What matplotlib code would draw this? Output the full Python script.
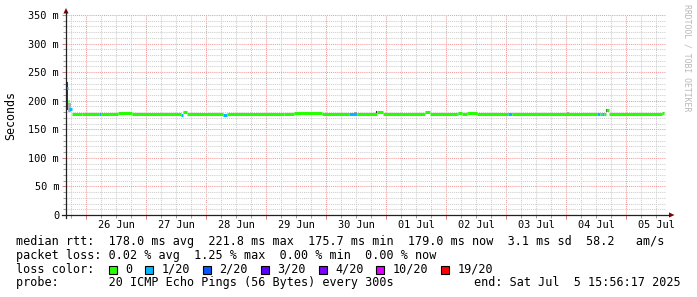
import matplotlib
matplotlib.use("Agg")
import matplotlib.pyplot as plt
import matplotlib.dates as mdates
from matplotlib.ticker import MultipleLocator, FuncFormatter, NullFormatter
from matplotlib.lines import Line2D
from matplotlib.patches import Rectangle, Polygon
from datetime import datetime, timedelta

# ---------------- data ----------------
end_time = datetime(2025, 7, 5, 15, 56, 17)
span_hours = 240  # 10 days shown

# median rtt segments (hours after window start), value in ms, loss index
seg_start_h = [0, 0.8, 1.2, 2.4, 6.4, 13.2, 14.0, 20.8, 26.4, 46.0,
               46.8, 48.4, 62.8, 64.4, 87.2, 91.2, 102.4, 113.2, 116.4, 124.4,
               126.8, 143.6, 145.6, 156.4, 156.8, 158.4, 160.4, 164.4, 176.8, 178.4,
               212.4, 213.6, 214.4, 215.2, 216.0, 217.2, 238.4]
seg_last_end_h = 239.2
seg_ms = [222, 200, 185, 177.5, 176.8, 176.5, 177.5, 178.6, 177.5, 175.8,
          180.5, 177.5, 175.8, 177.5, 177.0, 177.8, 177.3, 176.0, 177.5, 180.0,
          177.5, 180.0, 177.5, 176.0, 179.0, 177.5, 178.8, 177.5, 177.0, 177.5,
          177.0, 177.5, 177.0, 177.5, 183.0, 177.5, 179.0]
seg_loss = [1, 0, 1, 0, 0, 1, 0, 0, 0, 1,
            0, 0, 1, 0, 0, 0, 0, 1, 0, 0,
            0, 0, 0, 1, 0, 0, 0, 0, 1, 0,
            1, 0, 1, 0, 0, 0, 0]

# smoke (ping spread) spots
smoke_start_h = [0.0, 0.8, 115.2, 124.0, 144.8, 200.4, 216.0]
smoke_len_h = [0.8, 1.2, 1.2, 0.4, 0.4, 0.8, 0.4]
smoke_lo = [183, 180, 178, 179, 179, 178, 181]
smoke_hi = [232, 196, 181, 182, 182, 180, 186]
smoke_col = ["#3a3a3a", "#b0b0b0", "#a0a0a0", "#303030", "#303030", "#a8a8a8", "#303030"]

loss_labels = ["0", "1/20", "2/20", "3/20", "4/20", "10/20", "19/20"]
loss_colors = ["#26ff00", "#00b8ff", "#0059ff", "#5e00ff", "#7e00ff", "#dd00ff", "#ff0000"]

stats_rtt = ["178.0 ms avg", "221.8 ms max", "175.7 ms min", "179.0 ms now", "3.1 ms sd", "58.2", "am/s"]
stats_loss = ["0.02 % avg", "1.25 % max", "0.00 % min", "0.00 % now"]
probe_text = "20 ICMP Echo Pings (56 Bytes) every 300s"

y_ticks = [0, 50, 100, 150, 200, 250, 300, 350]

# ---------------- figure ----------------
W, H = 697, 297
MONO = "DejaVu Sans Mono"
fig = plt.figure(figsize=(W / 100, H / 100), dpi=100)
fig.patch.set_facecolor("white")


def fx(px):
    return px / W


def fy(py):
    return 1 - py / H


L, R, T, B = 66, 666, 15, 215
ax = fig.add_axes([fx(L), fy(B), (R - L) / W, (B - T) / H])
ax.set_facecolor("white")

start_time = end_time - timedelta(hours=span_hours)


def tnum(h):
    return mdates.date2num(start_time + timedelta(hours=h))


ax.set_xlim(tnum(0), tnum(span_hours))
ax.set_ylim(0, 350)

# grid
ax.yaxis.set_major_locator(MultipleLocator(50))
ax.yaxis.set_minor_locator(MultipleLocator(10))
ax.xaxis.set_major_locator(mdates.DayLocator())
ax.xaxis.set_minor_locator(mdates.HourLocator(byhour=range(0, 24, 6)))
ax.grid(which="minor", color="#cdcdcd", ls=(0, (1, 1)), lw=0.75, zorder=0)
ax.grid(which="major", color="#f29a9a", ls=(0, (1, 1)), lw=0.75, zorder=0.5)
ax.set_axisbelow(True)

ax.xaxis.set_major_formatter(NullFormatter())
ax.yaxis.set_major_formatter(FuncFormatter(lambda v, p: "0" if v == 0 else f"{int(v)} m"))
ax.set_yticks(y_ticks)
ax.tick_params(which="major", direction="out", length=3, width=0.75, color="#e08080",
               labelsize=7.4, labelcolor="black", pad=2)
ax.tick_params(which="minor", direction="out", length=2, width=0.75, color="#a0a0a0")
for lab in ax.get_yticklabels():
    lab.set_fontfamily(MONO)
for s in ax.spines.values():
    s.set_visible(False)

# day labels centred at noon
d = (start_time + timedelta(days=1)).replace(hour=12, minute=0, second=0)
while d < end_time:
    ax.text(mdates.date2num(d), -8, d.strftime("%d %b"), ha="center", va="top",
            fontsize=7.4, family=MONO, transform=ax.get_xaxis_transform() if False else ax.transData,
            clip_on=False)
    d += timedelta(days=1)

# smoke
for s0, sl, lo, hi, c in zip(smoke_start_h, smoke_len_h, smoke_lo, smoke_hi, smoke_col):
    ax.fill_between([tnum(s0), tnum(s0 + sl)], lo, hi, color=c, lw=0, zorder=2)

# median segments
seg_end_h = seg_start_h[1:] + [seg_last_end_h]
for s0, s1, v, li in zip(seg_start_h, seg_end_h, seg_ms, seg_loss):
    lc = ax.hlines(v, tnum(s0), tnum(s1), color=loss_colors[li], lw=2.2, zorder=3)
    lc.set_capstyle("butt")

# axis lines + arrows
fig.add_artist(Line2D([fx(62), fx(670)], [fy(B), fy(B)], color="#202020", lw=0.9))
fig.add_artist(Line2D([fx(L), fx(L)], [fy(B + 3), fy(11)], color="#202020", lw=0.9))
fig.add_artist(Polygon([[fx(L - 2.6), fy(13.5)], [fx(L + 2.6), fy(13.5)], [fx(L), fy(8)]],
                       closed=True, color="#8b0000", lw=0))
fig.add_artist(Polygon([[fx(669), fy(B - 2.6)], [fx(669), fy(B + 2.6)], [fx(674.5), fy(B)]],
                       closed=True, color="#8b0000", lw=0))

# y label
fig.text(fx(10.5), fy(115), "Seconds", rotation=90, ha="center", va="center",
         fontsize=8.4, family=MONO)

# watermark
fig.text(fx(686.5), fy(4), "RRDTOOL / TOBI OETIKER", rotation=270, ha="center", va="top",
         fontsize=5.9, family=MONO, color="#b8b8b8")

# legend
FS = 8.5
adv = 7.08
x0 = 16
row1 = ("median rtt:  " + "  ".join(stats_rtt[:5]) + "  " + stats_rtt[5] + "   " + stats_rtt[6])
row2 = "packet loss: " + "  ".join(stats_loss)
fig.text(fx(x0), fy(245.3), row1, fontsize=FS, family=MONO, va="baseline")
fig.text(fx(x0), fy(258.8), row2, fontsize=FS, family=MONO, va="baseline")
fig.text(fx(x0), fy(272.6), "loss color:", fontsize=FS, family=MONO, va="baseline")
fig.text(fx(x0), fy(286.2), "probe:       " + probe_text, fontsize=FS, family=MONO, va="baseline")
fig.text(fx(680.5), fy(286.2), "end: " + end_time.strftime("%a %b ") + f"{end_time.day:2d}" +
         end_time.strftime(" %H:%M:%S %Y"), fontsize=FS, family=MONO, va="baseline", ha="right")

bx = 108.5
for lab, col in zip(loss_labels, loss_colors):
    fig.add_artist(Rectangle((fx(bx), fy(273.5)), 8 / W, 8 / H, facecolor=col,
                             edgecolor="black", lw=0.8))
    lx = bx + 16.5
    fig.text(fx(lx), fy(272.6), lab, fontsize=FS, family=MONO, va="baseline")
    bx = lx + len(lab) * adv + 13

fig.savefig("out.png", dpi=100, facecolor="white")
